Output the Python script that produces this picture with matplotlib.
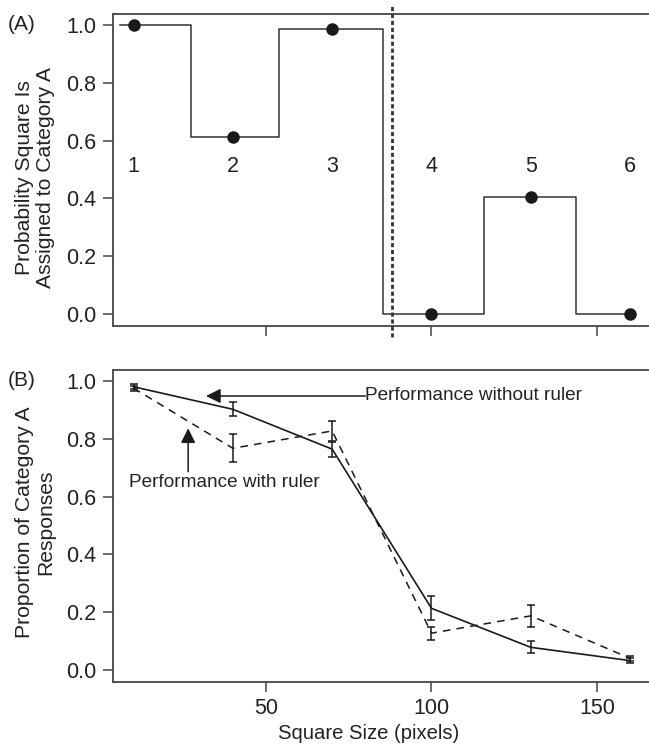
import matplotlib
matplotlib.use("Agg")
import matplotlib.pyplot as plt
from matplotlib.transforms import blended_transform_factory

plt.rcParams['font.family'] = ['Liberation Sans', 'DejaVu Sans']
plt.rcParams['font.size'] = 15

# Panel A: category structure
sizes = [10, 40, 70, 100, 130, 160]
cat_labels = ['1', '2', '3', '4', '5', '6']
prob_a = [1.0, 0.613, 0.986, 0.0, 0.406, 0.0]
step_edges = [6, 27.5, 54, 85.5, 116, 143.5, 161]
boundary = 88.2

# Panel B: performance with/without ruler
no_ruler = [0.980, 0.902, 0.764, 0.213, 0.078, 0.032]
no_ruler_err = [0.008, 0.024, 0.026, 0.042, 0.021, 0.008]
ruler = [0.975, 0.767, 0.827, 0.127, 0.187, 0.040]
ruler_err = [0.008, 0.048, 0.035, 0.023, 0.039, 0.008]

W, H = 649, 744
fig = plt.figure(figsize=(W / 100, H / 100), dpi=100)
axA = fig.add_axes([113 / W, 1 - 326 / H, 1 - 113 / W, 312 / H])
axB = fig.add_axes([113 / W, 1 - 681.7 / H, 1 - 113 / W, 311.7 / H])

txt = '#222222'
spine_col = '#444444'
for ax in (axA, axB):
    ax.spines['right'].set_visible(False)
    for s in ('left', 'top', 'bottom'):
        ax.spines[s].set_color(spine_col)
        ax.spines[s].set_linewidth(1.3)
    ax.set_xlim(3.8, 165.7)
    ax.set_ylim(-0.041, 1.038)
    ax.set_yticks([0.0, 0.2, 0.4, 0.6, 0.8, 1.0])
    ax.set_yticklabels(['0.0', '0.2', '0.4', '0.6', '0.8', '1.0'])
    ax.set_xticks([50, 100, 150])
    ax.tick_params(direction='out', length=7.5, width=1.1, color=spine_col,
                   labelsize=15.5, pad=4.5, labelcolor=txt)

# ---- Panel A
levels = prob_a + [prob_a[-1]]
axA.step(step_edges, levels, where='post', color='#333333', lw=1.1)
axA.plot(sizes, prob_a, 'o', color='#1a1a1a', ms=8)
for x, lab in zip(sizes, cat_labels):
    axA.text(x, 0.512, lab, ha='center', va='center', fontsize=15.5, color=txt)
trans = blended_transform_factory(axA.transData, axA.transAxes)
axA.plot([boundary, boundary], [-0.035, 1.029], transform=trans, clip_on=False,
         color='#333333', lw=2, dashes=(1.5, 1))
axA.set_xticklabels([])
axA.set_ylabel('Probability Square Is\nAssigned to Category A', fontsize=15.2,
               color=txt, linespacing=1.15)
axA.yaxis.set_label_coords(-0.108, 0.476)
fig.text(8 / W, 1 - 25 / H, '(A)', fontsize=15, va='center', ha='left', color=txt)

# ---- Panel B
axB.errorbar(sizes, no_ruler, yerr=no_ruler_err, color='#1a1a1a', lw=1.2,
             elinewidth=1.1, capsize=3, capthick=1.1)
axB.errorbar(sizes, ruler, yerr=ruler_err, color='#1a1a1a', lw=1.1,
             elinewidth=1.1, capsize=3, capthick=1.1, linestyle=(0, (5, 4)))
axB.annotate('', xy=(31.9, 0.948), xytext=(80, 0.948),
             arrowprops=dict(arrowstyle='-|>', color='#1a1a1a', lw=1.1,
                             mutation_scale=22, shrinkA=0, shrinkB=0))
axB.text(80, 0.951, 'Performance without ruler', ha='left', va='center',
         fontsize=13.7, color=txt)
axB.annotate('', xy=(26.5, 0.836), xytext=(26.5, 0.686),
             arrowprops=dict(arrowstyle='-|>', color='#1a1a1a', lw=1.1,
                             mutation_scale=22, shrinkA=0, shrinkB=0))
axB.text(8.5, 0.647, 'Performance with ruler', ha='left', va='center',
         fontsize=13.7, color=txt)
axB.set_xlabel('Square Size (pixels)', fontsize=14.6, color=txt)
axB.xaxis.set_label_coords(0.476, -0.136)
axB.set_ylabel('Proportion of Category A\nResponses', fontsize=15.2,
               color=txt, linespacing=1.15)
axB.yaxis.set_label_coords(-0.108, 0.512)
fig.text(8 / W, 1 - 381 / H, '(B)', fontsize=15, va='center', ha='left', color=txt)

fig.savefig('out.png', dpi=100)
